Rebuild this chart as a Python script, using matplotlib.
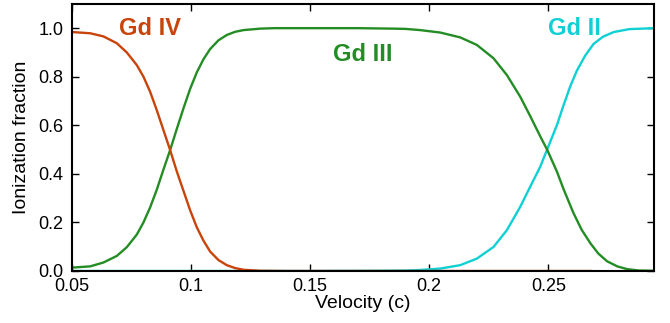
import matplotlib
matplotlib.use("Agg")
import matplotlib.pyplot as plt

plt.rcParams['font.family'] = ['Liberation Sans', 'DejaVu Sans']

# Gd IV
gd4_x = [0.050, 0.0576, 0.0632, 0.0688, 0.073, 0.0772, 0.080, 0.0828, 0.0856, 0.0884,
         0.0912, 0.094, 0.0968, 0.0996, 0.1024, 0.1052, 0.108, 0.1115, 0.115, 0.1185,
         0.122, 0.129, 0.14, 0.16, 0.20, 0.24, 0.268]
gd4_y = [0.984, 0.979, 0.966, 0.938, 0.900, 0.848, 0.800, 0.738, 0.662, 0.580,
         0.498, 0.410, 0.330, 0.250, 0.180, 0.125, 0.080, 0.045, 0.024, 0.012,
         0.005, 0.001, 0.0, 0.0, 0.0, 0.0, 0.0]

# Gd III
gd3_x = [0.050, 0.0576, 0.0632, 0.0688, 0.073, 0.0772, 0.080, 0.0828, 0.0856, 0.0884,
         0.0912, 0.0940, 0.0968, 0.0996, 0.1024, 0.1052, 0.108, 0.1115, 0.115, 0.1185,
         0.122, 0.129, 0.135, 0.15, 0.17, 0.185, 0.19, 0.1962, 0.2046, 0.213,
         0.220, 0.227, 0.2326, 0.2382, 0.2424, 0.2466, 0.2495, 0.2536, 0.2565, 0.2606,
         0.264, 0.2677, 0.271, 0.2747, 0.279, 0.283, 0.288, 0.2945]
gd3_y = [0.014, 0.019, 0.035, 0.062, 0.098, 0.150, 0.200, 0.262, 0.335, 0.418,
         0.498, 0.585, 0.670, 0.750, 0.818, 0.872, 0.914, 0.950, 0.972, 0.985,
         0.992, 0.998, 1.0, 1.0, 1.0, 0.998, 0.997, 0.992, 0.982, 0.962,
         0.931, 0.876, 0.807, 0.718, 0.638, 0.555, 0.50, 0.41, 0.335, 0.238,
         0.170, 0.114, 0.072, 0.040, 0.019, 0.008, 0.002, 0.001]

# Gd II
gd2_x = [0.050, 0.10, 0.15, 0.18, 0.19, 0.196, 0.2046, 0.213, 0.220, 0.227, 0.2326,
         0.2382, 0.2424, 0.2466, 0.2495, 0.2536, 0.2565, 0.2592, 0.262, 0.2655, 0.269,
         0.273, 0.2775, 0.284, 0.2945]
gd2_y = [0.0, 0.0, 0.0, 0.001, 0.002, 0.004, 0.010, 0.024, 0.051, 0.099, 0.168,
         0.264, 0.347, 0.429, 0.50, 0.60, 0.685, 0.76, 0.825, 0.887, 0.935,
         0.965, 0.984, 0.996, 1.0]

labels = ["Gd IV", "Gd III", "Gd II"]
x_ticks = [0.05, 0.1, 0.15, 0.2, 0.25]
x_tick_labels = ["0.05", "0.1", "0.15", "0.2", "0.25"]
y_ticks = [0.0, 0.2, 0.4, 0.6, 0.8, 1.0]
y_tick_labels = ["0.0", "0.2", "0.4", "0.6", "0.8", "1.0"]

c4 = "#c8440a"
c3 = "#248c24"
c2 = "#10d0d4"

fig = plt.figure(figsize=(6.7, 3.23), dpi=100)
ax = fig.add_axes([0.1075, 0.161, 0.869, 0.827])

ax.plot(gd2_x, gd2_y, color=c2, lw=1.7, solid_joinstyle='round')
ax.plot(gd3_x, gd3_y, color=c3, lw=1.7, solid_joinstyle='round')
ax.plot(gd4_x, gd4_y, color=c4, lw=1.7, solid_joinstyle='round')

ax.text(0.0828, 0.97, labels[0], color=c4, fontsize=17, fontweight='bold', ha='center', va='baseline')
ax.text(0.172, 0.863, labels[1], color=c3, fontsize=17, fontweight='bold', ha='center', va='baseline')
ax.text(0.2609, 0.973, labels[2], color=c2, fontsize=17, fontweight='bold', ha='center', va='baseline')

ax.set_xlim(0.05, 0.2945)
ax.set_ylim(0.0, 1.1)
ax.set_xticks(x_ticks)
ax.set_xticklabels(x_tick_labels)
ax.set_yticks(y_ticks)
ax.set_yticklabels(y_tick_labels)
ax.tick_params(direction='in', top=True, right=True, length=5, width=1, labelsize=13)
ax.tick_params(axis='x', pad=5)
ax.tick_params(axis='y', pad=6)
for s in ax.spines.values():
    s.set_linewidth(1.5)
ax.set_xlabel("Velocity (c)", fontsize=14, labelpad=0)
ax.set_ylabel("Ionization fraction", fontsize=14, labelpad=6)

fig.savefig("out.png", dpi=100)
